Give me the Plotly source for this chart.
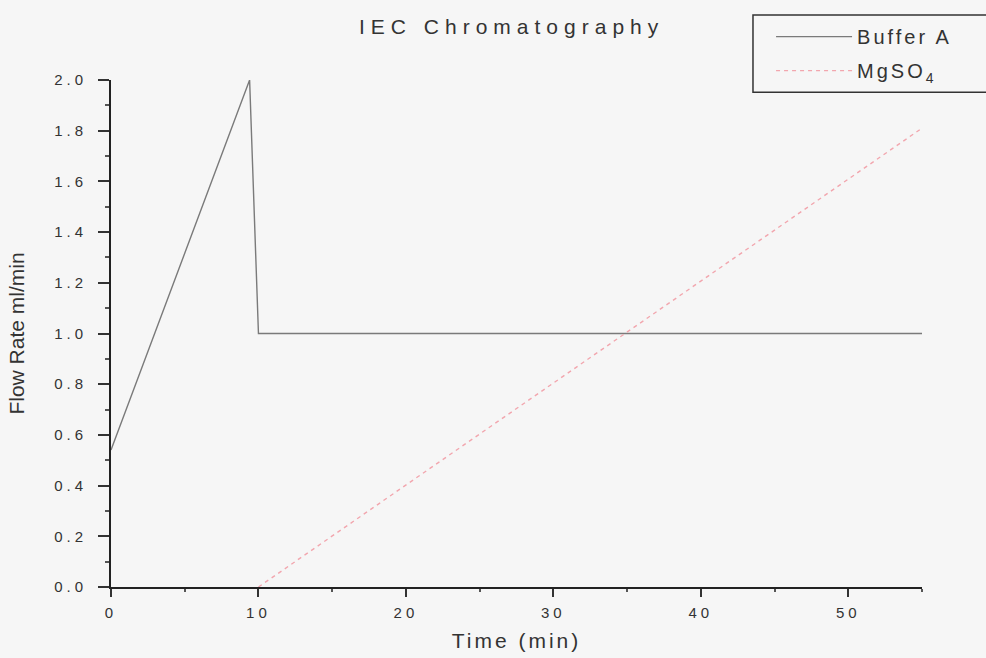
import plotly.graph_objects as go

# Data
buffer_time = [0, 9.4, 10.0, 55]
buffer_flow = [0.54, 2.0, 1.0, 1.0]
mgso4_time = [10.0, 55]
mgso4_flow = [0.0, 1.81]

x_ticks = [0, 10, 20, 30, 40, 50]
y_ticks = [0.0, 0.2, 0.4, 0.6, 0.8, 1.0, 1.2, 1.4, 1.6, 1.8, 2.0]

def sp(t, ls="2px"):
    return f'<span style="letter-spacing:{ls}">{t}</span>'

fig = go.Figure()
fig.add_trace(go.Scatter(x=buffer_time, y=buffer_flow, mode="lines",
                         name=sp("Buffer A", "3px"), legendgroup="a",
                         line=dict(color="#7a7a7a", width=1.4)))
fig.add_trace(go.Scatter(x=mgso4_time, y=mgso4_flow, mode="lines",
                         name=sp("MgSO", "3px") + "<sub>4</sub>", legendgroup="b",
                         line=dict(color="#f2a6ae", width=1.4, dash="4px,4px")))

font = "Liberation Sans, Arial, sans-serif"
fig.update_layout(
    width=986, height=658,
    paper_bgcolor="#f6f6f6", plot_bgcolor="#f6f6f6",
    margin=dict(l=111, r=64, t=80, b=71, autoexpand=False),
    font=dict(family=font, color="#333333", size=15),
    title=dict(text=sp("IEC Chromatography", "6px"), xref="paper", x=0.494, xanchor="center",
               y=0.959, yanchor="middle", font=dict(size=21, color="#333333"), automargin=False),
    showlegend=True,
    legend=dict(xref="container", yref="container", x=0.782, y=0.974, xanchor="left", yanchor="top",
                borderwidth=0, bgcolor="rgba(0,0,0,0)",
                font=dict(size=20, color="#333333"), tracegroupgap=5,
                itemwidth=76),
    shapes=[dict(type="rect", xref="paper", yref="paper",
                 x0=0.7916, x1=1.08, y0=0.976, y1=1.128,
                 line=dict(color="#333333", width=1.5), fillcolor="rgba(0,0,0,0)")],
    xaxis=dict(range=[0, 55], tickvals=x_ticks, ticktext=[sp(str(v), "4px") for v in x_ticks],
               automargin=False,
               showgrid=False, zeroline=False, showline=True, linecolor="#222222", linewidth=2,
               ticks="outside", ticklen=8, tickwidth=1.5, tickcolor="#333333",
               ticklabelstandoff=3,
               minor=dict(dtick=5, ticks="outside", ticklen=3, tickwidth=1.5, tickcolor="#555555", showgrid=False),
               title=dict(text=sp("Time (min)", "3px"), font=dict(size=21), standoff=13),
               tickfont=dict(size=15)),
    yaxis=dict(range=[0, 2.0], tickvals=y_ticks, ticktext=[sp(f"{v:.1f}", "4px") for v in y_ticks],
               automargin=False,
               showgrid=False, zeroline=False, showline=True, linecolor="#222222", linewidth=2,
               ticks="outside", ticklen=11, tickwidth=1.5, tickcolor="#333333",
               ticklabelstandoff=8,
               minor=dict(dtick=0.1, ticks="outside", ticklen=4, tickwidth=1.5, tickcolor="#555555", showgrid=False),
               title=dict(text="Flow Rate ml/min", font=dict(size=21), standoff=24),
               tickfont=dict(size=15)),
)

fig.write_html("out.html", config={"displayModeBar": False},
               post_script="document.body.style.margin='0';document.body.style.background='#f6f6f6';")
